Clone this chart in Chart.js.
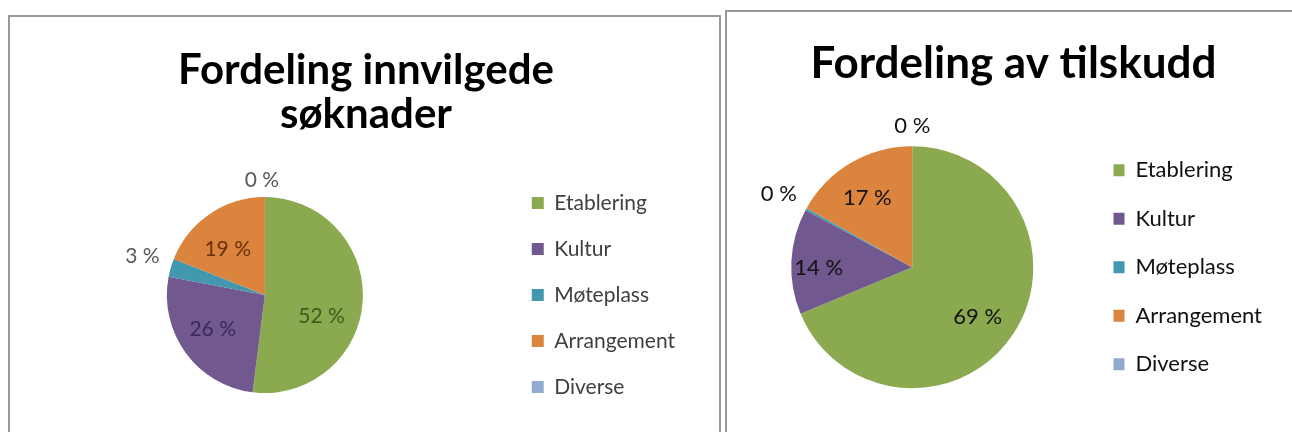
<!DOCTYPE html>
<html>
<head>
<meta charset="utf-8">
<script src="https://cdn.jsdelivr.net/npm/chart.js@4.4.1/dist/chart.umd.min.js"></script>
<style>
  html, body { margin:0; padding:0; background:#fff; overflow:hidden; width:1292px; height:432px; }
  .box { position:absolute; border:2px solid #999; background:#fff; box-sizing:border-box; overflow:hidden; }
  #b1 { left:8px; top:15px; width:713px; height:440px; }
  #b2 { left:725px; top:10px; width:580px; height:440px; }
  canvas { position:absolute; left:0; top:0; }
</style>
</head>
<body>
<div class="box" id="b1"><canvas id="c1" width="709" height="415"></canvas></div>
<div class="box" id="b2"><canvas id="c2" width="565" height="420"></canvas></div>
<script>
// ---- data ----
const categories = ['Etablering', 'Kultur', 'Møteplass', 'Arrangement', 'Diverse'];
const soknaderShare = [52, 26, 3, 19, 0];          // Fordeling innvilgede søknader (%)
const tilskuddShare = [68.7, 14.1, 0.3, 16.9, 0];  // Fordeling av tilskudd (%)
const titleSoknader = ['Fordeling innvilgede', 'søknader'];
const titleTilskudd = 'Fordeling av tilskudd';
const sliceColors = ['#8BA94F', '#71588F', '#4198AF', '#DB843D', '#93A9CF'];

// ---- percentage label plugin (uses arc geometry from Chart.js) ----
const pctLabels = {
  id: 'pctLabels',
  afterDatasetsDraw(chart, args, opts) {
    const ctx = chart.ctx;
    const meta = chart.getDatasetMeta(0);
    const data = chart.data.datasets[0].data;
    const total = data.reduce((a, b) => a + b, 0);
    ctx.save();
    ctx.font = opts.fontSize + 'px ' + opts.family;
    ctx.textAlign = 'center';
    ctx.textBaseline = 'middle';
    meta.data.forEach((arc, i) => {
      const p = arc.getProps(['x', 'y', 'startAngle', 'endAngle', 'outerRadius'], true);
      const pct = data[i] / total * 100;
      const mid = (p.startAngle + p.endAngle) / 2;
      const text = Math.round(pct) + ' %';
      let d, color;
      if (pct < opts.outsideBelow) {
        const w = ctx.measureText(text).width;
        d = p.outerRadius + opts.gap + Math.abs(Math.cos(mid)) * w / 2 + Math.abs(Math.sin(mid)) * opts.fontSize / 2;
        color = opts.outsideColor;
      } else {
        d = p.outerRadius * opts.inside;
        color = opts.insideColors[i];
      }
      const nd = (opts.nudge && opts.nudge[i]) || [0, 0];
      ctx.fillStyle = color;
      ctx.fillText(text, p.x + Math.cos(mid) * d + nd[0], p.y + Math.sin(mid) * d + nd[1]);
    });
    ctx.restore();
  }
};

// ---- widen the legend box on its right side (keeps title centred like the reference) ----
const legendExtra = {
  id: 'legendExtra',
  beforeLayout(chart, args, opts) {
    const lg = chart.legend;
    if (lg && !lg._extraPatched) {
      const fit = lg.fit;
      lg.fit = function () { fit.call(this); this.width += opts.extra; };
      lg._extraPatched = true;
    }
  }
};

function makePie(id, values, title, cfg) {
  return new Chart(document.getElementById(id), {
    type: 'pie',
    data: {
      labels: categories,
      datasets: [{ data: values, backgroundColor: sliceColors, borderWidth: 0, radius: cfg.radius }]
    },
    options: {
      responsive: false,
      animation: false,
      events: [],
      layout: { padding: cfg.padding },
      plugins: {
        title: {
          display: true, text: title, color: '#000',
          font: { family: 'Lato', weight: 'bold', size: cfg.titleSize, lineHeight: cfg.titleLH },
          padding: cfg.titlePadding
        },
        legend: {
          position: 'right',
          fullSize: false,
          labels: {
            boxWidth: cfg.legendBox, boxHeight: 12, padding: cfg.legendPad,
            color: cfg.legendColor,
            font: { family: 'Lato', size: cfg.legendSize }
          }
        },
        tooltip: { enabled: false },
        pctLabels: cfg.labels,
        legendExtra: { extra: cfg.legendExtra }
      }
    },
    plugins: [pctLabels, legendExtra]
  });
}

makePie('c1', soknaderShare, titleSoknader, {
  radius: 98,
  padding: { left: 13, right: 10, top: 0, bottom: 0 },
  titleSize: 42, titleLH: 1.05, titlePadding: { top: 31, bottom: 22 },
  legendPad: 25, legendSize: 21, legendColor: '#404040', legendExtra: 24, legendBox: 12,
  labels: { family: 'Lato', fontSize: 21, inside: 0.62, outsideBelow: 5, gap: 10,
            outsideColor: '#595959', insideColors: ['#3F5A1E', '#3A2A5A', '#333', '#6A3010', '#333'],
            nudge: [[-4, 17], [-3, -2], [0, -3], [-3, 4], [-3, 4]] }
});

makePie('c2', tilskuddShare, titleTilskudd, {
  radius: 121,
  padding: { left: 10.5, right: 2.5, top: 0, bottom: 0 },
  titleSize: 44, titleLH: 1.1, titlePadding: { top: 28, bottom: 14 },
  legendPad: 26.5, legendSize: 22, legendColor: '#111', legendExtra: 17.5, legendBox: 11,
  labels: { family: 'Lato', fontSize: 22, inside: 0.70, outsideBelow: 5, gap: 10,
            outsideColor: '#111', insideColors: ['#111', '#111', '#111', '#111', '#111'],
            nudge: [[-5, 3], [-9, 5], [0, 0], [-2, 4], [0, 1]] }
});
</script>
</body>
</html>
